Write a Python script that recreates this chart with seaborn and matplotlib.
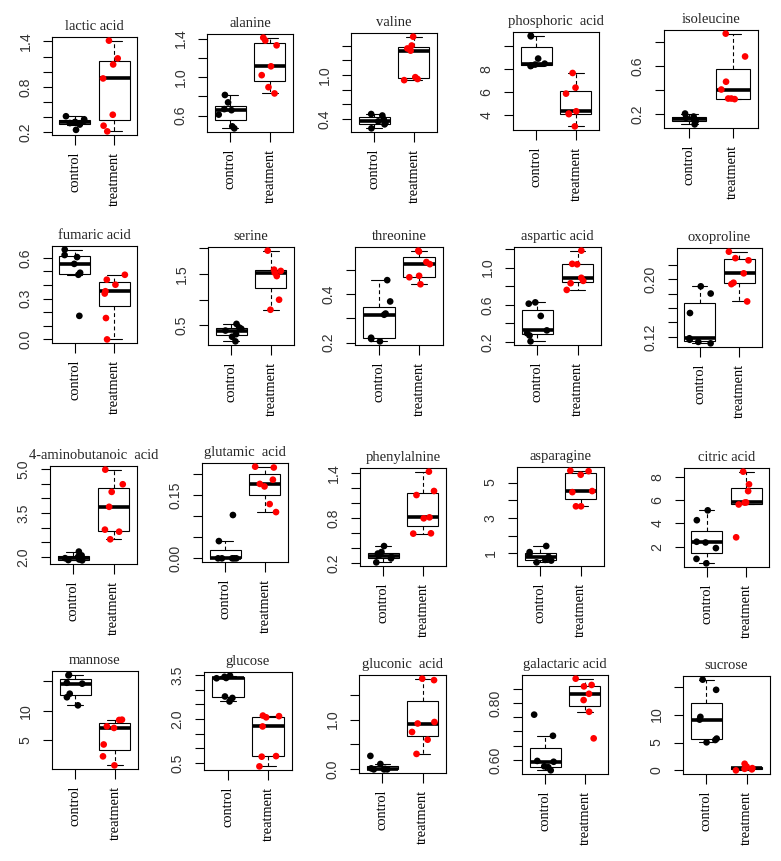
import numpy as np
import pandas as pd
import matplotlib
matplotlib.use("Agg")
import matplotlib.pyplot as plt
import seaborn as sns

groups = ["control", "treatment"]

# ---------------- data ----------------
lactic_control = [0.23, 0.30, 0.32, 0.335, 0.35, 0.37, 0.41]
lactic_treatment = [0.21, 0.285, 0.43, 0.91, 1.095, 1.175, 1.41]
lactic_yticks = [0.2, 0.4, 0.6, 0.8, 1.0, 1.2, 1.4]
lactic_ylabels = ["0.2", "", "", "0.8", "", "", "1.4"]

alanine_control = [0.467, 0.488, 0.61, 0.656, 0.667, 0.737, 0.814]
alanine_treatment = [0.83, 0.895, 1.02, 1.112, 1.33, 1.38, 1.41]
alanine_yticks = [0.6, 0.8, 1.0, 1.2, 1.4]
alanine_ylabels = ["0.6", "", "1.0", "", "1.4"]

valine_control = [0.276, 0.33, 0.35, 0.37, 0.40, 0.45, 0.47]
valine_treatment = [0.93, 0.945, 0.97, 1.33, 1.36, 1.40, 1.52]
valine_yticks = [0.4, 0.6, 0.8, 1.0, 1.2, 1.4]
valine_ylabels = ["0.4", "", "", "1.0", "", ""]

phosphoric_control = [8.22, 8.26, 8.35, 8.43, 8.87, 10.8, 10.86]
phosphoric_treatment = [2.99, 4.05, 4.1, 4.3, 5.83, 6.35, 7.62]
phosphoric_yticks = [4, 6, 8, 10]
phosphoric_ylabels = ["4", "6", "8", ""]

isoleucine_control = [0.115, 0.14, 0.15, 0.158, 0.17, 0.18, 0.205]
isoleucine_treatment = [0.325, 0.33, 0.33, 0.405, 0.47, 0.68, 0.87]
isoleucine_yticks = [0.2, 0.4, 0.6, 0.8]
isoleucine_ylabels = ["0.2", "", "0.6", ""]

fumaric_control = [0.173, 0.475, 0.49, 0.555, 0.605, 0.62, 0.66]
fumaric_treatment = [0.0, 0.157, 0.337, 0.354, 0.402, 0.439, 0.475]
fumaric_yticks = [0.0, 0.1, 0.2, 0.3, 0.4, 0.5, 0.6]
fumaric_ylabels = ["0.0", "", "", "0.3", "", "", "0.6"]

serine_control = [0.19, 0.28, 0.33, 0.40, 0.435, 0.46, 0.53]
serine_treatment = [0.805, 1.0, 1.46, 1.526, 1.56, 1.585, 1.955]
serine_yticks = [0.5, 1.0, 1.5, 2.0]
serine_ylabels = ["0.5", "", "1.5", ""]

threonine_control = [0.205, 0.215, 0.22, 0.315, 0.32, 0.37, 0.458]
threonine_treatment = [0.441, 0.47, 0.476, 0.524, 0.533, 0.576, 0.58]
threonine_yticks = [0.2, 0.3, 0.4, 0.5]
threonine_ylabels = ["0.2", "", "0.4", ""]

aspartic_control = [0.207, 0.27, 0.295, 0.325, 0.48, 0.612, 0.626]
aspartic_treatment = [0.76, 0.832, 0.857, 0.89, 1.035, 1.04, 1.182]
aspartic_yticks = [0.2, 0.4, 0.6, 0.8, 1.0, 1.2]
aspartic_ylabels = ["0.2", "", "0.6", "", "1.0", ""]

oxoproline_control = [0.111, 0.113, 0.116, 0.118, 0.153, 0.18, 0.19]
oxoproline_treatment = [0.169, 0.193, 0.195, 0.208, 0.226, 0.229, 0.238]
oxoproline_yticks = [0.12, 0.14, 0.16, 0.18, 0.20, 0.22]
oxoproline_ylabels = ["0.12", "", "", "", "0.20", ""]

gaba_control = [1.88, 1.89, 1.91, 1.955, 2.0, 2.05, 2.18]
gaba_treatment = [2.6, 2.86, 2.93, 3.71, 4.22, 4.48, 4.98]
gaba_yticks = [2.0, 2.5, 3.0, 3.5, 4.0, 4.5, 5.0]
gaba_ylabels = ["2.0", "", "", "3.5", "", "", "5.0"]

glutamic_control = [0.0, 0.0, 0.0, 0.0, 0.0, 0.041, 0.103]
glutamic_treatment = [0.11, 0.129, 0.171, 0.177, 0.187, 0.216, 0.218]
glutamic_yticks = [0.00, 0.05, 0.10, 0.15, 0.20]
glutamic_ylabels = ["0.00", "", "", "0.15", ""]

phenyl_control = [0.213, 0.265, 0.285, 0.30, 0.33, 0.35, 0.43]
phenyl_treatment = [0.596, 0.6, 0.8, 0.813, 1.11, 1.164, 1.422]
phenyl_yticks = [0.2, 0.4, 0.6, 0.8, 1.0, 1.2, 1.4]
phenyl_ylabels = ["0.2", "", "", "0.8", "", "", "1.4"]

asparagine_control = [0.5, 0.6, 0.64, 0.81, 0.94, 1.077, 1.42]
asparagine_treatment = [3.66, 3.66, 4.46, 4.52, 5.44, 5.64, 5.67]
asparagine_yticks = [1, 2, 3, 4, 5]
asparagine_ylabels = ["1", "", "3", "", "5"]

citric_control = [0.6, 0.98, 1.9, 2.38, 2.44, 4.28, 5.12]
citric_treatment = [2.82, 5.62, 5.78, 5.8, 6.76, 7.34, 8.42]
citric_yticks = [2, 4, 6, 8]
citric_ylabels = ["2", "4", "6", "8"]

mannose_control = [10.93, 12.3, 12.9, 14.6, 14.75, 16.0, 16.13]
mannose_treatment = [0.76, 2.29, 4.3, 7.1, 7.37, 8.45, 8.5]
mannose_yticks = [5, 10, 15]
mannose_ylabels = ["5", "10", ""]

glucose_control = [2.6, 2.72, 2.77, 3.39, 3.4, 3.44, 3.48]
glucose_treatment = [0.39, 0.72, 0.74, 1.75, 2.06, 2.1, 2.12]
glucose_yticks = [0.5, 1.0, 1.5, 2.0, 2.5, 3.0, 3.5]
glucose_ylabels = ["0.5", "", "", "2.0", "", "", "3.5"]

gluconic_control = [0.0, 0.0, 0.0, 0.01, 0.02, 0.108, 0.27]
gluconic_treatment = [0.31, 0.595, 0.75, 0.92, 0.95, 1.79, 1.82]
gluconic_yticks = [0.0, 0.5, 1.0, 1.5]
gluconic_ylabels = ["0.0", "", "1.0", ""]

galactaric_control = [0.564, 0.575, 0.578, 0.594, 0.597, 0.685, 0.759]
galactaric_treatment = [0.676, 0.769, 0.81, 0.832, 0.858, 0.863, 0.885]
galactaric_yticks = [0.60, 0.65, 0.70, 0.75, 0.80, 0.85]
galactaric_ylabels = ["0.60", "", "", "", "0.80", ""]

sucrose_control = [5.03, 5.45, 5.7, 9.09, 9.58, 14.42, 16.24]
sucrose_treatment = [0.02, 0.2, 0.3, 0.42, 0.5, 0.7, 1.2]
sucrose_yticks = [0, 5, 10, 15]
sucrose_ylabels = ["0", "5", "10", ""]

titles = ["lactic acid", "alanine", "valine", "phosphoric  acid", "isoleucine",
          "fumaric acid", "serine", "threonine", "aspartic acid", "oxoproline",
          "4-aminobutanoic  acid", "glutamic  acid", "phenylalnine", "asparagine", "citric acid",
          "mannose", "glucose", "gluconic  acid", "galactaric acid", "sucrose"]

panels = [
    (lactic_control, lactic_treatment, lactic_yticks, lactic_ylabels),
    (alanine_control, alanine_treatment, alanine_yticks, alanine_ylabels),
    (valine_control, valine_treatment, valine_yticks, valine_ylabels),
    (phosphoric_control, phosphoric_treatment, phosphoric_yticks, phosphoric_ylabels),
    (isoleucine_control, isoleucine_treatment, isoleucine_yticks, isoleucine_ylabels),
    (fumaric_control, fumaric_treatment, fumaric_yticks, fumaric_ylabels),
    (serine_control, serine_treatment, serine_yticks, serine_ylabels),
    (threonine_control, threonine_treatment, threonine_yticks, threonine_ylabels),
    (aspartic_control, aspartic_treatment, aspartic_yticks, aspartic_ylabels),
    (oxoproline_control, oxoproline_treatment, oxoproline_yticks, oxoproline_ylabels),
    (gaba_control, gaba_treatment, gaba_yticks, gaba_ylabels),
    (glutamic_control, glutamic_treatment, glutamic_yticks, glutamic_ylabels),
    (phenyl_control, phenyl_treatment, phenyl_yticks, phenyl_ylabels),
    (asparagine_control, asparagine_treatment, asparagine_yticks, asparagine_ylabels),
    (citric_control, citric_treatment, citric_yticks, citric_ylabels),
    (mannose_control, mannose_treatment, mannose_yticks, mannose_ylabels),
    (glucose_control, glucose_treatment, glucose_yticks, glucose_ylabels),
    (gluconic_control, gluconic_treatment, gluconic_yticks, gluconic_ylabels),
    (galactaric_control, galactaric_treatment, galactaric_yticks, galactaric_ylabels),
    (sucrose_control, sucrose_treatment, sucrose_yticks, sucrose_ylabels),
]

# ---------------- layout (pixel boxes: left, top, right, bottom) ----------------
rects = [
    (52, 37, 137, 135), (207, 34, 293, 132), (351, 33, 437, 132), (513, 32, 599, 130), (664, 30, 758, 128),
    (52, 246, 137, 343), (208, 247, 294, 345), (355, 247, 443, 345), (514, 247, 601, 345), (677, 248, 762, 347),
    (50, 466, 137, 564), (202, 463, 288, 562), (360, 468, 446, 566), (517, 467, 604, 566), (684, 468, 769, 567),
    (52, 671, 138, 769), (204, 672, 292, 770), (359, 675, 446, 773), (522, 675, 608, 774), (683, 676, 770, 774),
]

sns.set_theme(style="ticks")
plt.rcParams["font.family"] = ["Liberation Sans", "DejaVu Sans"]
plt.rcParams["axes.linewidth"] = 0.8
plt.rcParams["axes.edgecolor"] = "black"

W, H = 781, 861
fig = plt.figure(figsize=(W / 100, H / 100), dpi=100)
fig.patch.set_facecolor("white")

np.random.seed(3)
for k, ((ctrl, trt, yt, yl), title, (l, t, r, b)) in enumerate(zip(panels, titles, rects)):
    ax = fig.add_axes([l / W, 1 - b / H, (r - l) / W, (b - t) / H])
    df = pd.DataFrame({"group": ["control"] * len(ctrl) + ["treatment"] * len(trt),
                       "value": list(ctrl) + list(trt)})
    sns.boxplot(data=df, x="group", y="value", order=groups, ax=ax, width=0.78, whis=1.5,
                showfliers=False, color="white", linecolor="black", linewidth=0.8,
                whiskerprops=dict(linestyle=(0, (3.5, 2.5))),
                medianprops=dict(linewidth=2.6))
    for cont in ax.containers:
        for m in getattr(cont, "medians", []):
            m.set_linewidth(2.6)
            m.set_color("black")
        for w in getattr(cont, "whiskers", []):
            w.set_linestyle((0, (3.5, 2.5)))
        for bx in getattr(cont, "boxes", []):
            bx.set_facecolor("white")
            bx.set_edgecolor("black")
    sns.stripplot(data=df, x="group", y="value", order=groups, hue="group",
                  palette={"control": "black", "treatment": "#ff0000"}, jitter=0.3,
                  size=4.8, linewidth=0, ax=ax, legend=False, zorder=4)
    lo = min(min(ctrl), min(trt))
    hi = max(max(ctrl), max(trt))
    pad = 0.04 * (hi - lo)
    ax.set_ylim(lo - pad, hi + pad)
    ax.set_xlim(-0.58, 1.58)
    ax.set_yticks(yt)
    ax.set_yticklabels(yl, rotation=90, va="center", fontsize=10.2, color="#333333",
                       family=["Liberation Sans", "DejaVu Sans"])
    ax.set_xticks([0, 1])
    ax.set_xticklabels(groups, rotation=90, fontsize=10.4,
                       family=["Liberation Serif", "DejaVu Serif"])
    ax.tick_params(axis="y", length=6.5, width=0.8, pad=7.5, color="black")
    ax.tick_params(axis="x", length=7, width=0.8, pad=5, colors="black")
    ax.set_xlabel("")
    ax.set_ylabel("")
    for s in ax.spines.values():
        s.set_visible(True)
        s.set_color("black")
        s.set_linewidth(0.8)
    ax.set_title(title, fontsize=10.5, pad=5, family=["Liberation Serif", "DejaVu Serif"])

fig.savefig("out.png", dpi=100, facecolor="white")
